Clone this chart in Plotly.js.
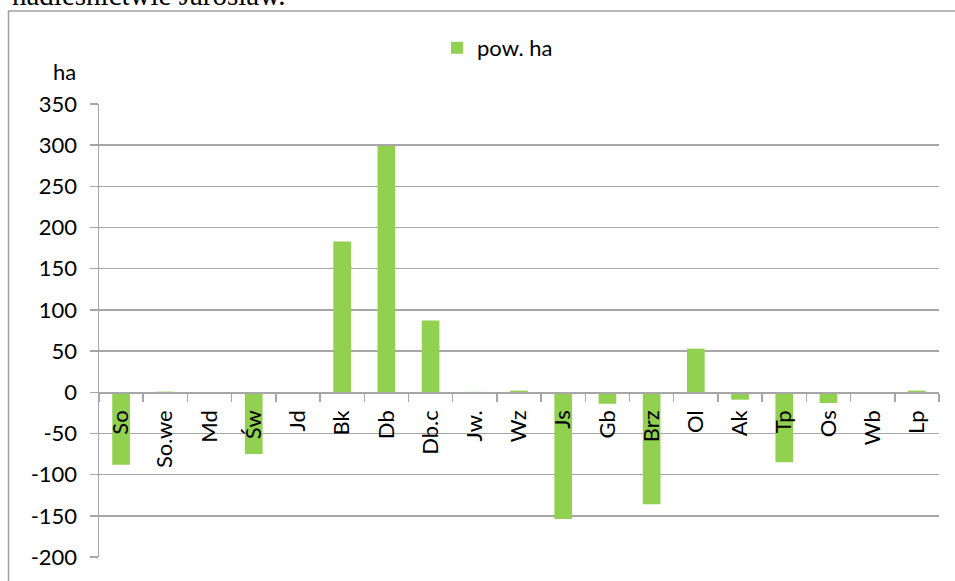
<!DOCTYPE html>
<html>
<head>
<meta charset="utf-8">
<script src="https://cdn.plot.ly/plotly-3.0.1.min.js"></script>
<style>html,body{margin:0;padding:0;background:#fff;}#chart{width:955px;height:581px;}</style>
</head>
<body>
<div id="chart"></div>
<script>
const categories = ["So","So.we","Md","Św","Jd","Bk","Db","Db.c","Jw.","Wz","Js","Gb","Brz","Ol","Ak","Tp","Os","Wb","Lp"];
const powHa = [-88, 0.8, 0, -75, 0, 183, 299, 87, 0.5, 2, -154, -14, -136, 53, -9, -85, -13, 0, 2];
const yTicks = [-200,-150,-100,-50,0,50,100,150,200,250,300,350];
const seriesName = "pow. ha";
const unitLabel = "ha";
const headerText = "nadleśnictwie Jarosław.";

const W = 955, H = 581, L = 99, R = 16, T = 104, B = 24;
const pw = W - L - R, ph = H - T - B;
const px = x => (x - L) / pw;
const py = y => (H - B - y) / ph;
const font = "Lato, 'Open Sans', sans-serif";
const grid = "#a6a6a6";

const trace = {
  type: "bar",
  x: categories,
  y: powHa,
  name: seriesName,
  marker: {color: "#92d050"},
  showlegend: true
};

const layout = {
  width: W, height: H,
  margin: {l: L, r: R, t: T, b: B, pad: 0},
  paper_bgcolor: "#fff",
  plot_bgcolor: "#fff",
  font: {family: font, size: 22, color: "#000"},
  bargap: 0.6,
  showlegend: true,
  legend: {x: px(437), y: py(48), xanchor: "left", yanchor: "middle",
           orientation: "h", font: {family: font, size: 22, color: "#000"},
           bgcolor: "rgba(0,0,0,0)", itemwidth: 30},
  xaxis: {
    type: "category",
    anchor: "free",
    position: py(392),
    showline: true, linecolor: grid, linewidth: 1.5,
    ticks: "outside", ticklen: 8, tickcolor: grid, tickwidth: 1.5,
    tickson: "boundaries",
    tickangle: -90,
    ticklabelstandoff: 8,
    tickfont: {family: font, size: 22, color: "#000"},
    showgrid: false, zeroline: false,
    range: [-0.5, categories.length - 0.5],
    fixedrange: true
  },
  yaxis: {
    range: [-200, 350],
    tickvals: yTicks,
    ticktext: yTicks.map(String),
    showline: true, linecolor: grid, linewidth: 1.5,
    ticks: "outside", ticklen: 8, tickcolor: grid, tickwidth: 1.5,
    ticklabelstandoff: 8,
    tickfont: {family: font, size: 22, color: "#000"},
    showgrid: true, gridcolor: grid, gridwidth: 1.5,
    zeroline: false,
    fixedrange: true
  },
  shapes: [{
    type: "rect", xref: "paper", yref: "paper",
    x0: px(8.5), x1: px(1000), y0: py(11), y1: py(700),
    line: {color: "#a0a0a0", width: 1.5}, fillcolor: "rgba(0,0,0,0)", layer: "below"
  }],
  annotations: [
    {text: unitLabel, xref: "paper", yref: "paper", x: px(78), y: py(71),
     xanchor: "right", yanchor: "middle", showarrow: false,
     font: {family: font, size: 22, color: "#000"}},
    {text: headerText, xref: "paper", yref: "paper", x: px(288), y: py(13),
     xanchor: "right", yanchor: "bottom", showarrow: false,
     font: {family: "'Liberation Serif', 'DejaVu Serif', serif", size: 29, color: "#000"}}
  ]
};

Plotly.newPlot("chart", [trace], layout, {staticPlot: true, displayModeBar: false});
</script>
</body>
</html>
